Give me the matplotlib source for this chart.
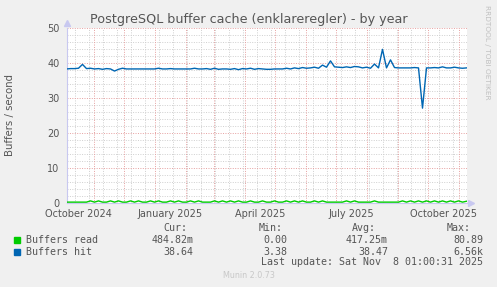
import numpy as np
import pandas as pd
import matplotlib
matplotlib.use("Agg")
import matplotlib.pyplot as plt
from matplotlib.patches import Rectangle

# time window of the munin "by year" graph (400 days)
start = pd.Timestamp("2024-10-04 01:00")
end = pd.Timestamp("2025-11-08 01:00")
step_days = 4

# Buffers hit, one value every 4 days
hit = [38.3, 38.4, 38.4, 38.5, 39.6, 38.4, 38.5, 38.3, 38.4, 38.2,
       38.4, 38.3, 37.7, 38.2, 38.5, 38.3, 38.3, 38.3, 38.3, 38.3,
       38.3, 38.3, 38.3, 38.5, 38.3, 38.3, 38.4, 38.3, 38.3, 38.3,
       38.3, 38.3, 38.5, 38.3, 38.3, 38.4, 38.2, 38.5, 38.2, 38.3,
       38.3, 38.2, 38.4, 38.1, 38.4, 38.3, 38.5, 38.2, 38.4, 38.3,
       38.2, 38.2, 38.3, 38.3, 38.3, 38.5, 38.3, 38.6, 38.4, 38.7,
       38.5, 38.6, 38.8, 38.5, 39.4, 38.8, 40.6, 38.9, 38.8, 38.7,
       38.9, 38.7, 39.0, 38.9, 38.6, 38.8, 38.5, 39.7, 38.6, 43.9,
       38.6, 40.9, 38.7, 38.6, 38.6, 38.6, 38.6, 38.7, 38.6, 27.1,
       38.6, 38.6, 38.7, 38.6, 38.9, 38.6, 38.6, 38.8, 38.6, 38.5,
       38.6]

# Buffers read
read = [0.25, 0.25, 0.25, 0.25, 0.25, 0.25, 0.6, 0.25, 0.6, 0.25,
        0.25, 0.6, 0.25, 0.6, 0.25, 0.25, 0.6, 0.25, 0.6, 0.25,
        0.25, 0.6, 0.25, 0.6, 0.25, 0.25, 0.6, 0.25, 0.6, 0.25,
        0.25, 0.6, 0.25, 0.6, 0.25, 0.25, 0.25, 0.6, 0.25, 0.6,
        0.25, 0.6, 0.25, 0.6, 0.25, 0.25, 0.6, 0.25, 0.25, 0.6,
        0.25, 0.25, 0.6, 0.25, 0.25, 0.6, 0.25, 0.6, 0.25, 0.6,
        0.25, 0.25, 0.6, 0.25, 0.6, 0.25, 0.25, 0.25, 0.25, 0.25,
        0.6, 0.25, 0.6, 0.25, 0.25, 0.25, 0.25, 0.6, 0.25, 0.25,
        0.25, 0.25, 0.25, 0.25, 0.6, 0.25, 0.6, 0.25, 0.6, 0.25,
        0.6, 0.25, 0.6, 0.25, 0.6, 0.25, 0.6, 0.25, 0.6, 0.25,
        0.5]

x_labels = ["October 2024", "January 2025", "April 2025", "July 2025", "October 2025"]
x_label_dates = ["2024-10-16", "2025-01-16", "2025-04-16", "2025-07-16", "2025-10-16"]

legend_names = ["Buffers read", "Buffers hit"]
legend_colors = ["#00CC00", "#0066B3"]
cur = ["484.82m", "38.64"]
vmin = ["0.00", "3.38"]
avg = ["417.25m", "38.47"]
vmax = ["80.89", "6.56k"]

W, H = 497, 287
def fx(x):
    return x / W
def fy(y):
    return 1 - y / H

fig = plt.figure(figsize=(W / 100, H / 100), dpi=100, facecolor="#F0F0F0")
ax = fig.add_axes([fx(66.5), fy(203), 400 / W, 175 / H])
ax.set_facecolor("white")

days = start + pd.to_timedelta(np.arange(len(hit)) * step_days, unit="D")

# grid
red = "#E6A0A0"
gray = "#CFCFCF"
dots = (0, (1, 1.5))
for d in pd.date_range("2024-09-29", end, freq="14D"):
    if start < d < end:
        ax.axvline(d, color=gray, lw=0.7, ls=dots, zorder=1)
for v in range(2, 50, 2):
    if v % 10:
        ax.axhline(v, color=gray, lw=0.7, ls=dots, zorder=1)
for d in pd.date_range("2024-11-01", end, freq="MS"):
    ax.axvline(d, color=red, lw=0.7, ls=dots, zorder=2)
for v in range(10, 51, 10):
    ax.axhline(v, color=red, lw=0.7, ls=dots, zorder=2)

ax.plot(days, read, color=legend_colors[0], lw=1.0, zorder=4)
ax.plot(days, hit, color=legend_colors[1], lw=1.0, zorder=4)

ax.set_xlim(start, end)
ax.set_ylim(0, 50)
ax.set_yticks(range(0, 51, 10))
ax.set_xticks(pd.to_datetime(x_label_dates))
ax.set_xticklabels(x_labels)
ax.tick_params(length=0, labelsize=7, colors="#555555")
ax.tick_params(axis="y", pad=5)
ax.tick_params(axis="x", pad=4)

for s in ["top", "right"]:
    ax.spines[s].set_visible(False)
for s in ["left", "bottom"]:
    ax.spines[s].set_color("#C8C8F0")
    ax.spines[s].set_linewidth(0.8)
ax.plot(1.012, 0, marker=">", color="#C8C8F0", ms=4, transform=ax.transAxes, clip_on=False)
ax.plot(0, 1.03, marker="^", color="#C8C8F0", ms=4, transform=ax.transAxes, clip_on=False)

fig.text(0.5, fy(19.3), "PostgreSQL buffer cache (enklareregler) - by year",
         ha="center", va="center", fontsize=9.2, color="#555555")
fig.text(fx(10), fy(115), "Buffers / second", rotation=90,
         ha="center", va="center", fontsize=7.3, color="#555555")
fig.text(fx(487), fy(5), "RRDTOOL / TOBI OETIKER", rotation=270,
         ha="center", va="top", fontsize=5.3, color="#C0C0C0")

mono = dict(family="DejaVu Sans Mono", fontsize=7.2, color="#555555", va="center")
fig.text(fx(163.3), fy(228), "Cur:", **mono)
fig.text(fx(258.7), fy(228), "Min:", **mono)
fig.text(fx(352), fy(228), "Avg:", **mono)
fig.text(fx(446.3), fy(228), "Max:", **mono)

rows_y = [239.7, 251.7]
for i in range(2):
    y = rows_y[i]
    fig.patches.append(Rectangle((fx(14), fy(y + 3)), 6 / W, 6 / H,
                                 transform=fig.transFigure, color=legend_colors[i]))
    fig.text(fx(26), fy(y), legend_names[i], **mono)
    fig.text(fx(193.5), fy(y), cur[i], ha="right", **mono)
    fig.text(fx(287.5), fy(y), vmin[i], ha="right", **mono)
    fig.text(fx(388), fy(y), avg[i], ha="right", **mono)
    fig.text(fx(483), fy(y), vmax[i], ha="right", **mono)

fig.text(fx(483), fy(262.3), "Last update: Sat Nov  8 01:00:31 2025", ha="right", **mono)
fig.text(0.5, fy(276), "Munin 2.0.73", ha="center", va="center", fontsize=5.8, color="#C8C8C8")

fig.savefig("out.png", dpi=100, facecolor=fig.get_facecolor())
